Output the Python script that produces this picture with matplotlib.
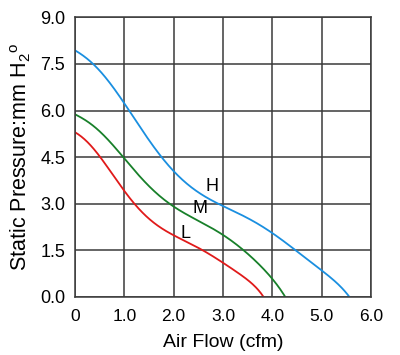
import numpy as np
import matplotlib
matplotlib.use('Agg')
import matplotlib.pyplot as plt

plt.rcParams['font.family'] = ['Liberation Sans', 'DejaVu Sans']

# readings (air flow cfm, static pressure mm H2O)
h_flow = [0, 0.37, 0.7, 1.0, 1.25, 1.5, 1.76, 2.0, 2.5, 2.91, 3.5, 4.0, 4.46, 5.0, 5.3, 5.56]
h_pres = [7.94, 7.5, 6.9, 6.24, 5.6, 5.05, 4.5, 4.08, 3.32, 3.0, 2.55, 2.05, 1.5, 0.86, 0.45, 0.0]
m_flow = [0, 0.5, 1.0, 1.18, 1.5, 1.92, 2.0, 2.5, 3.0, 3.41, 3.8, 4.0, 4.26]
m_pres = [5.88, 5.32, 4.5, 4.08, 3.55, 3.0, 2.93, 2.43, 2.0, 1.5, 0.95, 0.56, 0.0]
l_flow = [0, 0.25, 0.5, 0.75, 1.0, 1.18, 1.5, 1.72, 2.0, 2.33, 2.54, 3.0, 3.41, 3.65, 3.82]
l_pres = [5.3, 5.0, 4.5, 3.98, 3.44, 3.0, 2.53, 2.26, 1.94, 1.77, 1.51, 1.1, 0.65, 0.33, 0.0]

x_ticks = [0, 1, 2, 3, 4, 5, 6]
x_labels = ['0', '1.0', '2.0', '3.0', '4.0', '5.0', '6.0']
y_ticks = [0, 1.5, 3.0, 4.5, 6.0, 7.5, 9.0]


def smooth(x, y, deg=7):
	# least squares polynomial through the read points, just to draw a smooth line
	x = np.asarray(x, float); y = np.asarray(y, float)
	w = np.ones_like(x); w[0] = w[-1] = 10
	c = np.polyfit(x, y, deg, w=w)
	xs = np.linspace(x[0], x[-1], 300)
	return xs, np.polyval(c, xs)


fig = plt.figure(figsize=(4, 3.55), dpi=100)
ax = fig.add_axes([0.1875, 0.164, 0.74, 0.787])

ax.plot(*smooth(h_flow, h_pres), color='#1a8fe0', lw=1.3)
ax.plot(*smooth(m_flow, m_pres), color='#18802a', lw=1.3)
ax.plot(*smooth(l_flow, l_pres), color='#e01a1a', lw=1.3)

ax.text(2.78, 3.55, 'H', fontsize=13, ha='center', va='center')
ax.text(2.54, 2.83, 'M', fontsize=13, ha='center', va='center')
ax.text(2.25, 2.05, 'L', fontsize=13, ha='center', va='center')

ax.set_xlim(0, 6)
ax.set_ylim(0, 9)
ax.set_xticks(x_ticks)
ax.set_xticklabels(x_labels)
ax.set_yticks(y_ticks)
ax.set_yticklabels(['%.1f' % v for v in y_ticks])
ax.tick_params(axis='y', length=0, labelsize=13, pad=7)
ax.tick_params(axis='x', length=0, labelsize=12.5, pad=9)
ax.grid(True, color='#3a3a3a', lw=1.1)
for s in ax.spines.values():
	s.set_color('#3a3a3a'); s.set_linewidth(1.1)

ax.set_xlabel('Air Flow (cfm)', fontsize=14, labelpad=7)
ax.set_ylabel('Static Pressure:mm H$_\\mathregular{2}$$^\\mathregular{o}$', fontsize=15.5, labelpad=5)

fig.savefig('out.png', dpi=100)
